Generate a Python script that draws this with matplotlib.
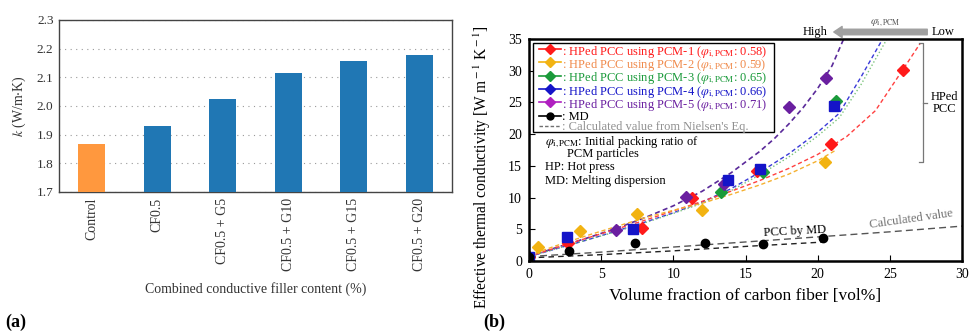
import numpy as np
import matplotlib.pyplot as plt
from matplotlib.patches import FancyArrowPatch, Rectangle

plt.rcParams['font.family'] = ['Liberation Serif', 'DejaVu Serif']
plt.rcParams['mathtext.fontset'] = 'stix'

# =========================
# Donnees panneau (a)
# =========================
categories = ['Control', 'CF0.5', 'CF0.5 + G5', 'CF0.5 + G10', 'CF0.5 + G15', 'CF0.5 + G20']
k_values = [1.867, 1.931, 2.025, 2.116, 2.158, 2.177]

# =========================
# Donnees panneau (b) : points mesures
# =========================
pcm1_x = [0.0, 2.7, 7.8, 11.3, 15.8, 20.9, 25.9]
pcm1_y = [0.7, 2.8, 5.2, 9.9, 14.2, 18.4, 30.1]
pcm2_x = [0.6, 3.5, 7.5, 12.0, 20.5]
pcm2_y = [2.2, 4.7, 7.4, 8.0, 15.6]
pcm3_x = [13.3, 16.2, 21.3]
pcm3_y = [10.8, 14.0, 25.2]
pcm4_x = [0.0, 2.6, 7.2, 13.8, 16.0, 21.1]
pcm4_y = [0.7, 3.8, 5.0, 12.8, 14.5, 24.4]
pcm5_x = [6.0, 10.9, 13.5, 18.0, 20.6]
pcm5_y = [4.9, 10.1, 12.1, 24.3, 28.9]
md_x = [0.0, 2.8, 7.35, 12.2, 16.2, 20.4]
md_y = [0.7, 1.6, 2.8, 2.8, 2.7, 3.6]

# courbes
fit1_x = [0, 2, 4, 6, 8, 10, 12, 14, 16, 18, 20, 22, 24, 26, 27.1]
fit1_y = [0.7, 2.2, 3.6, 5.0, 6.4, 7.9, 9.4, 11.0, 12.7, 14.6, 16.8, 19.6, 23.7, 30.5, 34.3]
fit2_x = [0, 2, 4, 6, 8, 10, 12, 14, 16, 18, 20, 21.2]
fit2_y = [0.9, 2.5, 4.0, 5.4, 6.8, 8.0, 9.1, 10.5, 12.0, 13.7, 15.8, 17.4]
fit3_x = [0, 2, 4, 6, 8, 10, 12, 14, 16, 18, 20, 21.5, 23, 24.8]
fit3_y = [0.7, 2.0, 3.3, 4.6, 6.0, 7.5, 9.1, 11.1, 13.6, 16.4, 19.7, 22.6, 27.8, 35]
fit4_x = [0, 2, 4, 6, 8, 10, 12, 14, 16, 18, 20, 21.5, 23, 24.5]
fit4_y = [0.7, 2.0, 3.3, 4.7, 6.1, 7.6, 9.3, 11.4, 14.0, 16.9, 20.3, 23.3, 29.0, 35]
fit5_x = [0, 2, 4, 6, 8, 10, 12, 14, 16, 17, 18, 19, 20, 21, 21.8]
fit5_y = [0.7, 2.2, 3.6, 5.1, 6.8, 8.7, 11.0, 13.9, 17.3, 19.3, 21.6, 24.2, 27.2, 30.8, 35]
calc_x = [0, 5, 10, 15, 20, 25, 30]
calc_y = [0.7, 1.4, 2.2, 3.0, 3.8, 4.6, 5.5]
mdfit_x = [0, 5, 10, 15, 20.5]
mdfit_y = [0.5, 1.0, 1.6, 2.3, 3.0]

# legende
phi = r'$\varphi_{\rm i,PCM}$'
leg_labels = [': HPed PCC using PCM-1 (' + phi + ': 0.58)',
              ': HPed PCC using PCM-2 (' + phi + ': 0.59)',
              ': HPed PCC using PCM-3 (' + phi + ': 0.65)',
              ': HPed PCC using PCM-4 (' + phi + ': 0.66)',
              ': HPed PCC using PCM-5 (' + phi + ': 0.71)',
              ': MD',
              ": Calculated value from Nielsen's Eq."]

fig = plt.figure(figsize=(9.69, 3.33), dpi=100)

# =========================
# Panneau (a)
# =========================
ax1 = fig.add_axes([59 / 969, 141 / 333, 393 / 969, 172 / 333])
pos = np.arange(len(categories))
colors = ['#FF983E'] + ['#2077B4'] * 5
ax1.bar(pos, k_values, width=0.41, color=colors, zorder=3)
ax1.set_xlim(-0.5, 5.5)
ax1.set_ylim(1.7, 2.3)
ax1.set_yticks([1.7, 1.8, 1.9, 2.0, 2.1, 2.2, 2.3])
ax1.set_yticklabels(['1.7', '1.8', '1.9', '2.0', '2.1', '2.2', '2.3'], fontsize=9.5)
ax1.set_xticks(pos)
ax1.set_xticklabels(categories, rotation=90, fontsize=10)
ax1.tick_params(length=0, pad=4, colors='#333333')
ax1.yaxis.grid(True, linestyle=(0, (1, 4)), color='#999999', linewidth=0.8)
for s in ax1.spines.values():
    s.set_color('#444444')
    s.set_linewidth(1.0)
ax1.set_ylabel(r'$k$ (W/m$\cdot$K)', fontsize=10, labelpad=6, color='#333333')
ax1.set_xlabel('Combined conductive filler content (%)', fontsize=10, color='#333333', labelpad=8)
fig.text(5 / 969, 1 - 322 / 333, '(a)', fontsize=13, fontweight='bold', va='center')

# =========================
# Panneau (b)
# =========================
ax2 = fig.add_axes([529 / 969, 72 / 333, 433 / 969, 222 / 333])
c1, c2, c3, c4, c5 = '#FF1A1A', '#F2B312', '#1A9A3A', '#1414C8', '#6A1FA0'

ax2.plot(fit5_x, fit5_y, '--', color='#5A2A9A', lw=1.2, dashes=(3, 2))
ax2.plot(fit4_x, fit4_y, '--', color='#3A3AD8', lw=1.0, dashes=(3, 2))
ax2.plot(fit3_x, fit3_y, ':', color='#7CC47C', lw=1.0)
ax2.plot(fit1_x, fit1_y, '--', color='#FF4040', lw=1.0, dashes=(3, 2))
ax2.plot(fit2_x, fit2_y, '--', color='#F5B030', lw=1.0, dashes=(3, 2))
ax2.plot(calc_x, calc_y, '--', color='#555555', lw=1.0, dashes=(5, 3))
ax2.plot(mdfit_x, mdfit_y, '--', color='#222222', lw=1.0, dashes=(4, 3))

ax2.plot(pcm2_x, pcm2_y, 'D', color=c2, ms=6, ls='none')
ax2.plot(pcm1_x, pcm1_y, 'D', color=c1, ms=6, ls='none')
ax2.plot(pcm3_x, pcm3_y, 'D', color=c3, ms=6, ls='none')
ax2.plot(pcm5_x, pcm5_y, 'D', color=c5, ms=6, ls='none')
ax2.plot(pcm4_x, pcm4_y, 's', color=c4, ms=7, ls='none')
ax2.plot(md_x, md_y, 'o', color='black', ms=6, ls='none')

ax2.set_xlim(0, 30)
ax2.set_ylim(0, 35)
ax2.set_xticks([0, 5, 10, 15, 20, 25, 30])
ax2.set_yticks([0, 5, 10, 15, 20, 25, 30, 35])
ax2.tick_params(direction='in', labelsize=10, length=4, width=0.8, pad=5)
for s in ax2.spines.values():
    s.set_linewidth(1.8)
ax2.set_xlabel('Volume fraction of carbon fiber [vol%]', fontsize=12.5, labelpad=5)
ax2.set_ylabel(r'Effective thermal conductivity [W m$^{\rm -1}$ K$^{\rm -1}$]', fontsize=11.2)
ax2.yaxis.set_label_coords(-0.082, 0.425)

# legende dessinee a la main (lignes a hauteur fixe)
ax2.add_patch(Rectangle((0.28, 20.35), 16.7, 14.05, facecolor='white', edgecolor='black',
                        lw=1.0, zorder=4))
row_y = [33.4, 31.3, 29.2, 27.1, 25.0, 22.9, 21.3]
hcolors = [c1, c2, c3, c4, '#B020C0', 'black']
hmarkers = ['D', 'D', 'D', 'D', 'D', 'o']
tcolors = [c1, '#F08A4B', c3, c4, c5, 'black', '#909090']
for i in range(6):
    ax2.plot([0.7, 2.2], [row_y[i], row_y[i]], color=hcolors[i], lw=1.2, zorder=5)
    ax2.plot([1.45], [row_y[i]], marker=hmarkers[i], color=hcolors[i], ms=5, zorder=5)
ax2.plot([0.7, 2.2], [row_y[6], row_y[6]], color='#707070', ls='--', lw=1.0,
         dashes=(2.5, 1.5), zorder=5)
for i in range(7):
    ax2.text(2.3, row_y[i], leg_labels[i], fontsize=9.0, color=tcolors[i],
             va='center_baseline', zorder=6)

# texte explicatif
ax2.text(1.1, 18.8, phi + ': Initial packing ratio of', fontsize=9, va='center')
ax2.text(2.6, 16.9, 'PCM particles', fontsize=9, va='center')
ax2.text(1.1, 14.8, 'HP: Hot press', fontsize=9, va='center')
ax2.text(1.1, 12.6, 'MD: Melting dispersion', fontsize=9, va='center')
ax2.text(18.4, 4.7, 'PCC by MD', fontsize=9, ha='center', va='center', rotation=3)
ax2.text(26.5, 6.6, 'Calculated value', fontsize=9, ha='center', va='center',
         rotation=8, color='#707070')

# accolade HPed PCC
ax2.plot([27.0, 27.3, 27.3, 27.0], [34.4, 34.4, 15.6, 15.6], color='#777777', lw=0.9)
ax2.plot([27.3, 27.6], [24.9, 24.9], color='#777777', lw=0.9)
ax2.text(28.8, 24.9, 'HPed\nPCC', fontsize=9, ha='center', va='center', linespacing=1.0)

# fleche High / Low
fig.text(803 / 969, 1 - 32 / 333, 'High', fontsize=9, va='center')
fig.text(932 / 969, 1 - 32 / 333, 'Low', fontsize=9, va='center')
fig.text(885 / 969, 1 - 23 / 333, phi, fontsize=8, ha='center', va='center', color='#555555')
arrow = FancyArrowPatch((930 / 969, 1 - 32 / 333), (831 / 969, 1 - 32 / 333),
                        transform=fig.transFigure, color='#A0A0A0',
                        arrowstyle='simple,head_length=6,head_width=8,tail_width=4')
fig.add_artist(arrow)

fig.text(483 / 969, 1 - 322 / 333, '(b)', fontsize=13, fontweight='bold', va='center')

plt.savefig('out.png', dpi=100)
